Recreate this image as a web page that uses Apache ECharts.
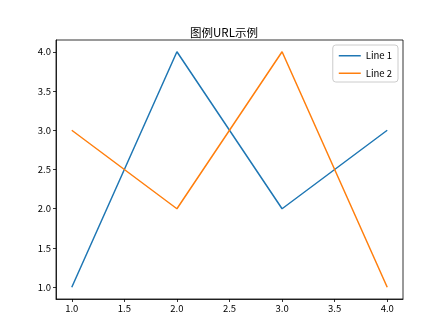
<!DOCTYPE html>
<html><head><meta charset="utf-8">
<script src="https://cdn.jsdelivr.net/npm/echarts@6/dist/echarts.min.js"></script>
<style>html,body{margin:0;padding:0;background:#fff}#c{width:448px;height:336px}</style>
</head><body><div id="c"></div>
<script>
const xValues = [1, 2, 3, 4];
const line1 = [1, 4, 2, 3];
const line2 = [3, 2, 4, 1];
const tickValues = [1.0, 1.5, 2.0, 2.5, 3.0, 3.5, 4.0];
const titleText = '图例URL示例';
const seriesNames = ['Line 1', 'Line 2'];

const font = 'Noto Sans CJK SC, DejaVu Sans, sans-serif';
const chart = echarts.init(document.getElementById('c'), null, {renderer: 'canvas'});
function axis(){
  return {
    type: 'value', min: 0.85, max: 4.15,
    splitLine: {show: false},
    axisLine: {show: true, onZero: false, lineStyle: {color: '#000', width: 0.8}},
    axisTick: {show: true, length: 3, customValues: tickValues, lineStyle: {color: '#000', width: 0.8}},
    axisLabel: {customValues: tickValues, formatter: v => v.toFixed(1), color: '#000', fontSize: 9.5, fontFamily: font, margin: 5}
  };
}
const x = axis(); const y = axis();
chart.setOption({
  animation: false,
  title: {text: titleText, left: 'center', top: 22, textStyle: {fontSize: 11.5, fontWeight: 'normal', color: '#000', fontFamily: font}},
  grid: {left: 56, right: 45, top: 40, bottom: 37, show: true, borderColor: '#000', borderWidth: 0.8},
  xAxis: x,
  yAxis: y,
  legend: {
    orient: 'vertical', right: 50, top: 45,
    data: seriesNames,
    icon: 'rect', itemWidth: 22, itemHeight: 1.5, itemGap: 8,
    borderColor: '#ccc', borderWidth: 1, borderRadius: 3, padding: [6, 6, 4, 6],
    textStyle: {fontSize: 9.5, color: '#000', fontFamily: font}
  },
  series: [
    {name: seriesNames[0], type: 'line', data: xValues.map((v,i)=>[v, line1[i]]), symbol: 'none', lineStyle: {color: '#1f77b4', width: 1.5}, itemStyle: {color: '#1f77b4'}},
    {name: seriesNames[1], type: 'line', data: xValues.map((v,i)=>[v, line2[i]]), symbol: 'none', lineStyle: {color: '#ff7f0e', width: 1.5}, itemStyle: {color: '#ff7f0e'}}
  ]
});
</script></body></html>
